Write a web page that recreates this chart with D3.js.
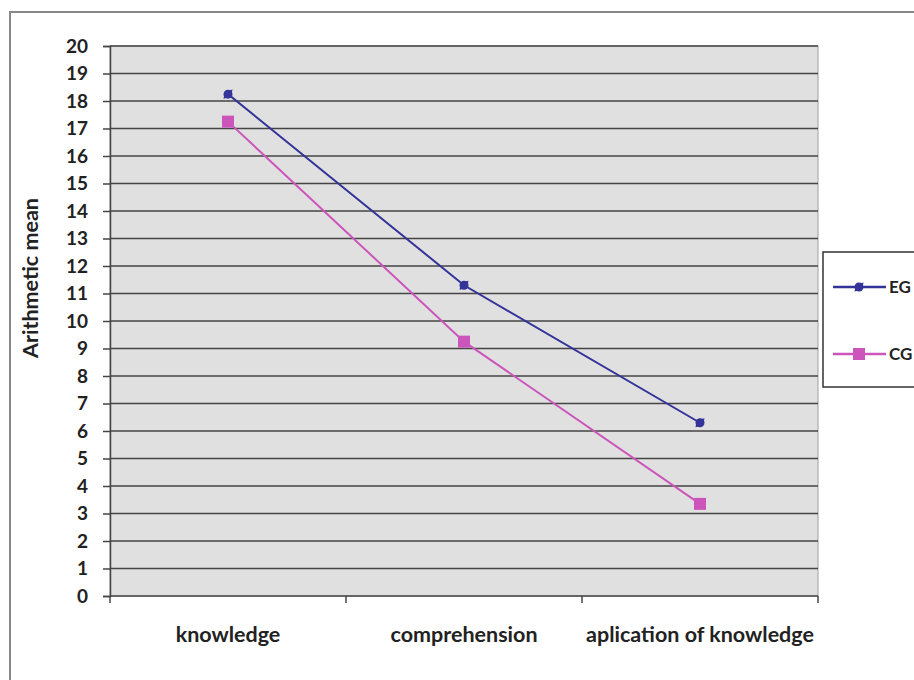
<!DOCTYPE html>
<html>
<head>
<meta charset="utf-8">
<script src="https://cdn.jsdelivr.net/npm/d3@7"></script>
<style>
  body { margin: 0; background: #fff; }
  text { font-family: Lato, "Open Sans", sans-serif; font-weight: bold; fill: #222; }
</style>
</head>
<body>
<svg id="chart" width="914" height="680"></svg>
<script>
const categories = ["knowledge", "comprehension", "aplication of knowledge"];
const egValues = [18.25, 11.3, 6.3];
const cgValues = [17.25, 9.25, 3.35];
const yTicks = d3.range(0, 21);

const series = [
    { name: "EG", values: egValues, color: "#333399", marker: "diamond" },
    { name: "CG", values: cgValues, color: "#cc55bb", marker: "square" }
];

const svg = d3.select("#chart");

// outer frame
svg.append("path")
    .attr("d", "M10,680 V12 H914")
    .attr("fill", "none")
    .attr("stroke", "#888")
    .attr("stroke-width", 2);

const margin = { top: 46, left: 110, right: 818, bottom: 596 };

const x = d3.scaleBand().domain(categories).range([margin.left, margin.right]);
const y = d3.scaleLinear().domain([0, 20]).range([margin.bottom, margin.top]);

// plot background
svg.append("rect")
    .attr("x", margin.left)
    .attr("y", margin.top)
    .attr("width", margin.right - margin.left)
    .attr("height", margin.bottom - margin.top)
    .attr("fill", "#e0e0e0")
    .attr("stroke", "#a0a0a0")
    .attr("stroke-width", 1);

// gridlines
svg.append("g")
    .selectAll("line")
    .data(yTicks.filter(d => d > 0))
    .enter().append("line")
    .attr("x1", margin.left)
    .attr("x2", margin.right)
    .attr("y1", d => y(d))
    .attr("y2", d => y(d))
    .attr("stroke", "#444")
    .attr("stroke-width", 1.5);

// y axis
const yAxis = svg.append("g")
    .attr("transform", `translate(${margin.left},0)`)
    .call(d3.axisLeft(y).tickValues(yTicks).tickSize(7).tickPadding(15));
yAxis.selectAll("text").style("font-size", "19px").attr("fill", "#222");
yAxis.selectAll("line, path").attr("stroke", "#444").attr("stroke-width", 1.5);

// x axis with ticks at band edges
const xAxis = svg.append("g")
    .attr("transform", `translate(0,${margin.bottom})`);
xAxis.append("line")
    .attr("x1", margin.left).attr("x2", margin.right)
    .attr("y1", 0).attr("y2", 0)
    .attr("stroke", "#444").attr("stroke-width", 1.5);
xAxis.selectAll(".edge")
    .data(categories.concat([null]))
    .enter().append("line")
    .attr("class", "edge")
    .attr("x1", (d, i) => i < categories.length ? x(d) : margin.right)
    .attr("x2", (d, i) => i < categories.length ? x(d) : margin.right)
    .attr("y1", 0).attr("y2", 7)
    .attr("stroke", "#444").attr("stroke-width", 1.5);
xAxis.selectAll(".cat")
    .data(categories)
    .enter().append("text")
    .attr("class", "cat")
    .attr("x", d => x(d) + x.bandwidth() / 2)
    .attr("y", 46)
    .attr("text-anchor", "middle")
    .style("font-size", "21.5px")
    .text(d => d);

// y title
svg.append("text")
    .attr("transform", "translate(38,278) rotate(-90)")
    .attr("text-anchor", "middle")
    .style("font-size", "21.5px")
    .text("Arithmetic mean");

const line = d3.line()
    .x((d, i) => x(categories[i]) + x.bandwidth() / 2)
    .y(d => y(d));

function drawMarker(g, type, color, cx, cy) {
    if (type === "diamond") {
        g.append("path")
            .attr("d", d3.symbol().type(d3.symbolDiamond).size(60)())
            .attr("transform", `translate(${cx},${cy}) rotate(45) scale(0.9)`)
            .attr("fill", color);
        g.append("circle").attr("cx", cx).attr("cy", cy).attr("r", 4.5).attr("fill", color);
    } else {
        g.append("rect")
            .attr("x", cx - 6).attr("y", cy - 6)
            .attr("width", 12).attr("height", 12)
            .attr("fill", color);
    }
}

series.forEach(s => {
    const g = svg.append("g");
    g.append("path")
        .datum(s.values)
        .attr("d", line)
        .attr("fill", "none")
        .attr("stroke", s.color)
        .attr("stroke-width", 2);
    s.values.forEach((v, i) => {
        drawMarker(g, s.marker, s.color, x(categories[i]) + x.bandwidth() / 2, y(v));
    });
});

// legend
const legend = svg.append("g");
legend.append("rect")
    .attr("x", 823).attr("y", 252)
    .attr("width", 120).attr("height", 135)
    .attr("fill", "#fff")
    .attr("stroke", "#333")
    .attr("stroke-width", 1.5);
series.forEach((s, i) => {
    const ly = 287 + i * 67;
    legend.append("line")
        .attr("x1", 833).attr("x2", 886)
        .attr("y1", ly).attr("y2", ly)
        .attr("stroke", s.color).attr("stroke-width", 2.5);
    drawMarker(legend, s.marker, s.color, 859, ly);
    legend.append("text")
        .attr("x", 889).attr("y", ly + 6)
        .style("font-size", "17px")
        .text(s.name);
});
</script>
</body>
</html>
